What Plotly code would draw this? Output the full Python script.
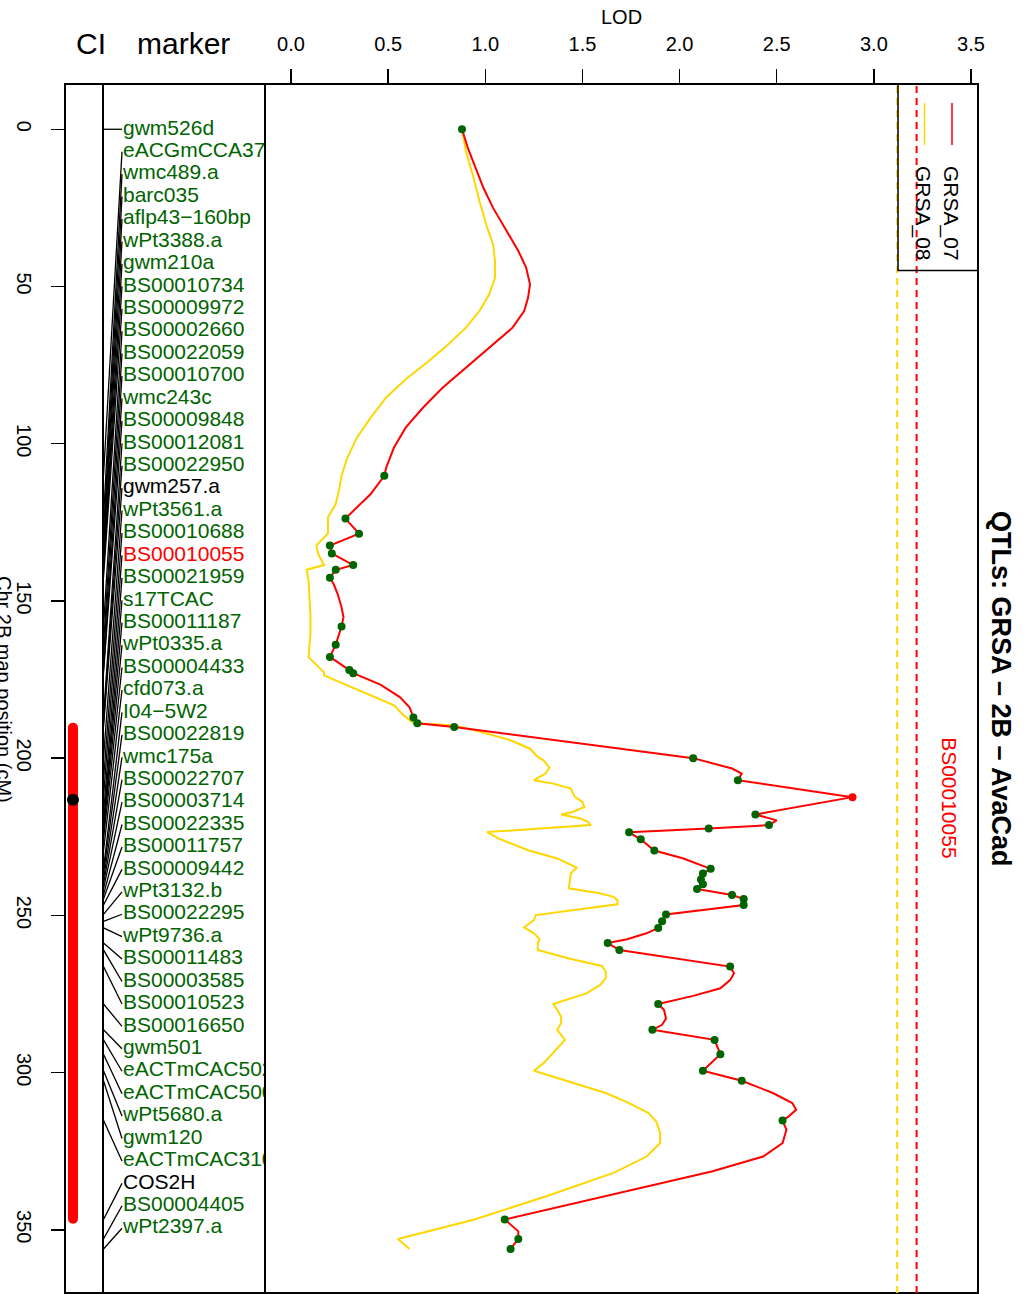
import plotly.graph_objects as go

# ---------------- data ----------------
marker_names = ["gwm526d", "eACGmCCA37", "wmc489.a", "barc035", "aflp43−160bp", "wPt3388.a",
                "gwm210a", "BS00010734", "BS00009972", "BS00002660", "BS00022059", "BS00010700",
                "wmc243c", "BS00009848", "BS00012081", "BS00022950", "gwm257.a", "wPt3561.a",
                "BS00010688", "BS00010055", "BS00021959", "s17TCAC", "BS00011187", "wPt0335.a",
                "BS00004433", "cfd073.a", "I04−5W2", "BS00022819", "wmc175a", "BS00022707",
                "BS00003714", "BS00022335", "BS00011757", "BS00009442", "wPt3132.b", "BS00022295",
                "wPt9736.a", "BS00011483", "BS00003585", "BS00010523", "BS00016650", "gwm501",
                "eACTmCAC502", "eACTmCAC500", "wPt5680.a", "gwm120", "eACTmCAC310", "COS2H",
                "BS00004405", "wPt2397.a"]
marker_type = ["g"] * 16 + ["k"] + ["g", "g", "r"] + ["g"] * 27 + ["k", "g", "g"]

marker_pos = [0.0, 110.2, 123.8, 128.6, 132.4, 134.9, 138.6, 140.1, 142.6, 158.1, 163.9, 167.8,
              172.0, 173.0, 187.1, 188.9, 190.1, 200.0, 207.0, 212.4, 217.9, 221.3, 222.4, 223.6,
              225.8, 229.4, 235.2, 236.7, 238.6, 240.1, 241.6, 243.5, 244.8, 246.7, 249.7, 251.9,
              254.0, 258.8, 261.0, 266.3, 278.2, 286.4, 289.6, 294.2, 299.4, 302.6, 315.2, 346.7,
              352.9, 356.1]
marker_lod_07 = [0.88, 0.48, 0.28, 0.35, 0.20, 0.21, 0.32, 0.23, 0.20, 0.26, 0.23, 0.20, 0.30, 0.32,
                 0.63, 0.65, 0.84, 2.07, 2.30, 2.89, 2.39, 2.46, 2.15, 1.74, 1.80, 1.87, 2.16, 2.12,
                 2.11, 2.12, 2.09, 2.27, 2.33, 2.33, 1.93, 1.91, 1.89, 1.63, 1.69, 2.26, 1.89, 1.86,
                 2.18, 2.21, 2.12, 2.32, 2.53, 1.10, 1.17, 1.13]
peak_marker = "BS00010055"

grsa07_cm = [0.0, 5.9, 12.3, 18.6, 25.0, 32.4, 38.7, 44.0, 49.3, 53.6, 57.8, 63.1, 68.4, 75.8, 82.2,
             88.5, 94.9, 101.2, 107.6, 110.2, 116.0, 123.8, 128.6, 132.4, 134.9, 138.6, 140.1, 142.6,
             144.7, 147.8, 152.0, 155.2, 158.1, 163.9, 167.8, 172.0, 173.0, 176.6, 180.6, 183.8,
             187.1, 188.9, 190.1, 200.0, 203.3, 204.9, 207.0, 212.4, 217.9, 219.8, 221.3, 222.4,
             223.6, 225.8, 229.4, 231.9, 235.2, 236.7, 238.6, 240.1, 241.6, 243.5, 244.8, 246.7,
             249.7, 251.9, 254.0, 255.7, 257.6, 258.8, 261.0, 266.3, 268.4, 270.6, 273.2, 275.6,
             278.2, 280.1, 282.8, 284.8, 286.4, 289.6, 294.2, 299.4, 302.6, 306.5, 309.7, 311.8,
             314.0, 315.2, 318.2, 322.4, 326.7, 331.4, 336.2, 341.0, 346.7, 350.5, 352.9, 356.1]
grsa07_lod = [0.88, 0.91, 0.95, 0.99, 1.04, 1.11, 1.17, 1.21, 1.23, 1.22, 1.20, 1.14, 1.04, 0.90,
              0.78, 0.68, 0.59, 0.53, 0.49, 0.48, 0.41, 0.28, 0.35, 0.20, 0.21, 0.32, 0.23, 0.20,
              0.22, 0.24, 0.26, 0.27, 0.26, 0.23, 0.20, 0.30, 0.32, 0.46, 0.56, 0.61, 0.63, 0.65,
              0.84, 2.07, 2.27, 2.32, 2.30, 2.89, 2.39, 2.50, 2.46, 2.15, 1.74, 1.80, 1.87, 2.02,
              2.16, 2.12, 2.11, 2.12, 2.09, 2.27, 2.33, 2.33, 1.93, 1.91, 1.89, 1.83, 1.73, 1.63,
              1.69, 2.26, 2.28, 2.26, 2.21, 2.07, 1.89, 1.92, 1.93, 1.91, 1.86, 2.18, 2.21, 2.12,
              2.32, 2.48, 2.58, 2.60, 2.56, 2.53, 2.55, 2.53, 2.43, 2.17, 1.83, 1.49, 1.10, 1.17,
              1.17, 1.13]

grsa08_cm = [0.0, 7.0, 15.5, 22.9, 31.3, 36.6, 41.9, 47.2, 52.5, 57.8, 63.1, 68.9, 74.2, 79.5, 85.3,
             91.7, 98.0, 104.4, 110.2, 113.9, 119.2, 123.4, 128.5, 132.4, 135.1, 138.6, 140.1,
             143.5, 154.1, 160.5, 167.9, 172.7, 173.7, 178.5, 183.2, 186.4, 188.8, 189.6, 191.2,
             194.3, 197.0, 199.6, 200.7, 203.0, 204.9, 207.0, 208.1, 209.7, 212.3, 213.9, 215.5,
             217.1, 217.9, 219.2, 220.3, 221.3, 223.5, 225.6, 229.3, 231.9, 234.8, 236.7, 241.4,
             243.0, 244.1, 245.2, 246.5, 249.9, 251.5, 253.8, 255.7, 257.6, 258.9, 261.0, 263.7,
             266.1, 267.9, 270.0, 272.2, 274.8, 278.2, 280.1, 282.2, 284.3, 286.4, 289.6, 291.7,
             297.0, 299.4, 302.9, 306.5, 309.7, 312.9, 315.6, 319.2, 322.4, 326.7, 331.9, 339.4,
             346.8, 352.9, 356.1]
grsa08_lod = [0.88, 0.90, 0.94, 0.97, 1.01, 1.04, 1.05, 1.05, 1.02, 0.97, 0.90, 0.80, 0.70, 0.59,
              0.49, 0.41, 0.34, 0.29, 0.26, 0.25, 0.23, 0.19, 0.19, 0.13, 0.14, 0.17, 0.08, 0.09,
              0.10, 0.10, 0.09, 0.17, 0.17, 0.35, 0.53, 0.58, 0.63, 0.84, 0.95, 1.13, 1.23, 1.27,
              1.30, 1.33, 1.31, 1.25, 1.35, 1.44, 1.46, 1.50, 1.51, 1.45, 1.39, 1.49, 1.53, 1.54,
              1.01, 1.07, 1.22, 1.37, 1.47, 1.44, 1.43, 1.59, 1.66, 1.68, 1.68, 1.26, 1.25, 1.20,
              1.25, 1.28, 1.27, 1.27, 1.43, 1.60, 1.62, 1.62, 1.59, 1.52, 1.35, 1.37, 1.39, 1.39,
              1.37, 1.41, 1.38, 1.30, 1.25, 1.43, 1.62, 1.74, 1.84, 1.88, 1.90, 1.90, 1.83, 1.66,
              1.31, 0.94, 0.55, 0.61]

threshold_07 = 3.22
threshold_08 = 3.12
ci_low, ci_high, ci_peak = 190.3, 346.5, 213.2
peak_lod_label_x = 3.39

cm_ticks = [0, 50, 100, 150, 200, 250, 300, 350]
lod_ticks = [0.0, 0.5, 1.0, 1.5, 2.0, 2.5, 3.0, 3.5]
series_names = ["GRSA_07", "GRSA_08"]

# ---------------- styling / layout helpers ----------------
FONT = "Liberation Sans, Arial, Helvetica, sans-serif"
GREEN = "#006400"
RED = "#FF0000"
GOLD = "#FFD700"
W, H = 1028, 1294
ML, MR, MT, MB = 0, 50, 84, 1
PW, PH = W - ML - MR, H - MT - MB


def px(x):
    return (x - ML) / PW


def py(y):
    return (H - MB - y) / PH


def mx(x):  # pixel -> marker panel coordinate
    return (x - 103) / (265 - 103)


color_map = {"g": GREEN, "k": "black", "r": RED}
label_colors = [color_map[t] for t in marker_type]

n = len(marker_names)
label_top, label_bot = marker_pos[0], 349.5
label_pos = [label_top + i * (label_bot - label_top) / (n - 1) for i in range(n)]

fig = go.Figure()

# connector lines between true positions and label positions
lx, ly = [], []
for p, lp in zip(marker_pos, label_pos):
    lx += [mx(103.5), mx(122), None]
    ly += [p, lp, None]
fig.add_trace(go.Scatter(x=lx, y=ly, mode="lines", line=dict(color="black", width=1.3),
                         xaxis="x2", yaxis="y", hoverinfo="skip"))

# marker labels
fig.add_trace(go.Scatter(x=[mx(123)] * n, y=label_pos, mode="text", text=marker_names,
                         textposition="middle right", cliponaxis=True,
                         textfont=dict(family=FONT, size=21, color=label_colors),
                         xaxis="x2", yaxis="y", hoverinfo="skip"))

# LOD curves
fig.add_trace(go.Scatter(x=grsa08_lod, y=grsa08_cm, mode="lines", name=series_names[1],
                         line=dict(color=GOLD, width=2), xaxis="x3", yaxis="y"))
fig.add_trace(go.Scatter(x=grsa07_lod, y=grsa07_cm, mode="lines", name=series_names[0],
                         line=dict(color=RED, width=2), xaxis="x3", yaxis="y"))

dot_colors = [RED if nm == peak_marker else GREEN for nm in marker_names]
fig.add_trace(go.Scatter(x=marker_lod_07, y=marker_pos, mode="markers",
                         marker=dict(color=dot_colors, size=8, line=dict(width=0)),
                         xaxis="x3", yaxis="y"))

# confidence interval
fig.add_trace(go.Scatter(x=[0.21, 0.21], y=[ci_low, ci_high], mode="lines+markers",
                         line=dict(color=RED, width=10),
                         marker=dict(color=RED, size=10, line=dict(width=0)),
                         xaxis="x", yaxis="y", cliponaxis=False))
fig.add_trace(go.Scatter(x=[0.21], y=[ci_peak], mode="markers",
                         marker=dict(color="black", size=12, line=dict(width=0)),
                         xaxis="x", yaxis="y", cliponaxis=False))

shapes = []
# panel boxes
for x0, x1 in [(65, 103), (103, 265), (265, 978)]:
    shapes.append(dict(type="rect", xref="paper", yref="paper", x0=px(x0), x1=px(x1),
                       y0=py(1293), y1=py(84), line=dict(color="black", width=2),
                       fillcolor="rgba(0,0,0,0)", layer="above"))
# thresholds
for thr, col in [(threshold_08, GOLD), (threshold_07, RED)]:
    shapes.append(dict(type="line", xref="x3", yref="paper", x0=thr, x1=thr, y0=0, y1=1,
                       line=dict(color=col, width=2, dash="7px,5px")))
# legend box and keys
shapes.append(dict(type="rect", xref="paper", yref="paper", x0=px(898), x1=px(978),
                   y0=py(270.5), y1=py(84), line=dict(color="black", width=1.5),
                   fillcolor="rgba(0,0,0,0)"))
shapes.append(dict(type="line", xref="paper", yref="paper", x0=px(952), x1=px(952),
                   y0=py(145), y1=py(103), line=dict(color=RED, width=1.5)))
shapes.append(dict(type="line", xref="paper", yref="paper", x0=px(924.5), x1=px(924.5),
                   y0=py(145), y1=py(103), line=dict(color=GOLD, width=1.5)))

annotations = [
    dict(text="CI", x=px(91), y=py(43), xref="paper", yref="paper", showarrow=False,
         font=dict(family=FONT, size=30, color="black"), xanchor="center", yanchor="middle"),
    dict(text="marker", x=px(183), y=py(43), xref="paper", yref="paper", showarrow=False,
         font=dict(family=FONT, size=30, color="black"), xanchor="center", yanchor="middle"),
    dict(text="LOD", x=px(621), y=py(17), xref="paper", yref="paper", showarrow=False,
         font=dict(family=FONT, size=20, color="black"), xanchor="center", yanchor="middle"),
    dict(text="<b>QTLs: GRSA – 2B – AvaCad</b>", x=px(1001), y=py(689), xref="paper",
         yref="paper", showarrow=False, textangle=90,
         font=dict(family=FONT, size=27, color="black"), xanchor="center", yanchor="middle"),
    dict(text="Chr 2B map position (cM)", x=px(4), y=py(689), xref="paper", yref="paper",
         showarrow=False, textangle=90, font=dict(family=FONT, size=20, color="black"),
         xanchor="center", yanchor="middle"),
    dict(text=peak_marker, x=peak_lod_label_x, y=ci_peak - 0.6, xref="x3", yref="y",
         showarrow=False, textangle=90, font=dict(family=FONT, size=21, color=RED),
         xanchor="center", yanchor="middle"),
    dict(text=series_names[0], x=px(951), y=py(213), xref="paper", yref="paper",
         showarrow=False, textangle=90, font=dict(family=FONT, size=21, color="black"),
         xanchor="center", yanchor="middle"),
    dict(text=series_names[1], x=px(923), y=py(213), xref="paper", yref="paper",
         showarrow=False, textangle=90, font=dict(family=FONT, size=21, color="black"),
         xanchor="center", yanchor="middle"),
]

fig.update_layout(
    width=W, height=H,
    margin=dict(l=ML, r=MR, t=MT, b=MB, pad=0),
    paper_bgcolor="white", plot_bgcolor="white",
    showlegend=False, hovermode=False,
    font=dict(family=FONT, color="black"),
    xaxis=dict(domain=[px(65), px(103)], range=[0, 1], visible=False, anchor="y",
               fixedrange=True),
    xaxis2=dict(domain=[px(103), px(265)], range=[0, 1], visible=False, anchor="y",
                fixedrange=True),
    xaxis3=dict(domain=[px(265), 1], range=[-0.134, 3.536], side="top", anchor="y",
                tickvals=lod_ticks, ticktext=[f"{v:.1f}" for v in lod_ticks],
                ticks="outside", ticklen=14, tickwidth=1.5, tickcolor="black",
                showgrid=False, zeroline=False, showline=False, automargin=False,
                tickfont=dict(family=FONT, size=20, color="black"), ticklabelstandoff=10),
    yaxis=dict(domain=[0, 1], range=[370.1, -14.4], anchor="x", tickvals=cm_ticks,
               ticks="outside", ticklen=13, tickwidth=1.5, tickcolor="black", tickangle=90,
               showgrid=False, zeroline=False, showline=False, automargin=False,
               tickfont=dict(family=FONT, size=20, color="black"), ticklabelstandoff=10),
    shapes=shapes,
    annotations=annotations,
)

fig.write_html("out.html",
               config={"displayModeBar": False, "staticPlot": True},
               post_script="document.body.style.margin='0px';document.body.style.padding='0px';"
                           "document.body.style.overflow='hidden';")
